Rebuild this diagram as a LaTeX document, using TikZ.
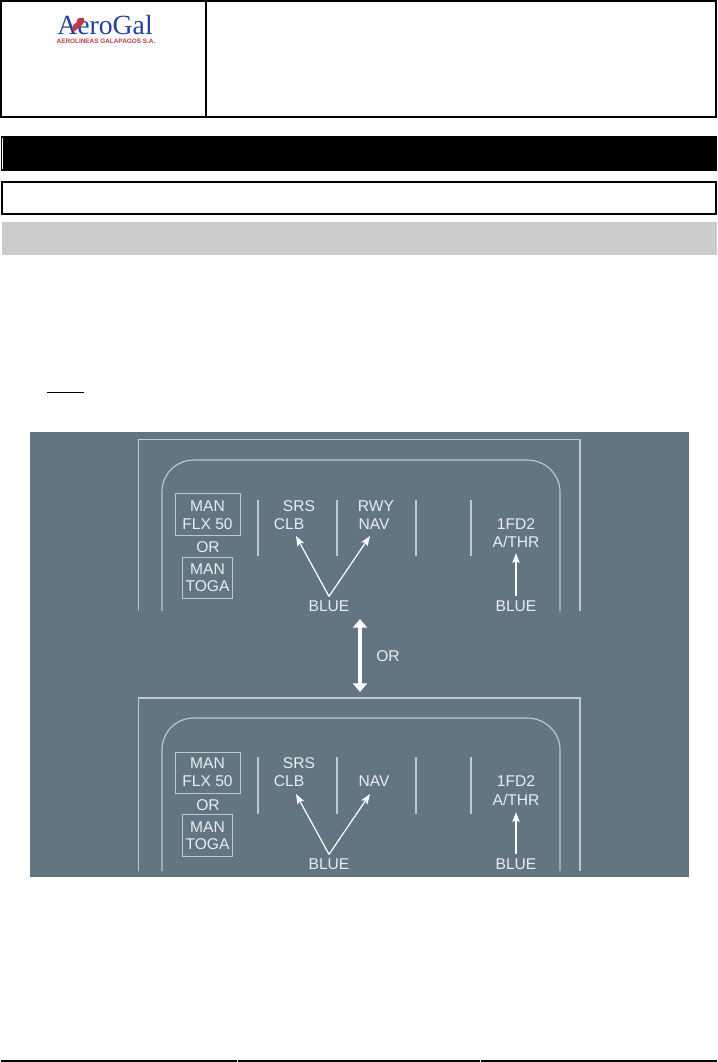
\documentclass[tikz,border=0pt]{standalone}
\usepackage{fontspec}
\setmainfont{Liberation Sans}
\newfontfamily\logoserif{Liberation Serif}
\usetikzlibrary{arrows.meta}
\definecolor{panel}{HTML}{647582}
\definecolor{ink}{HTML}{E9EDF0}
\definecolor{rule}{HTML}{BDC8D0}
\definecolor{logoblue}{HTML}{23409A}
\definecolor{logored}{HTML}{BE3A44}
\tikzset{
  x=0.75pt,y=-0.75pt,
  lbl/.style={inner sep=0pt,outer sep=0pt,text=ink,text height=8.4pt,text depth=0pt,font=\fontsize{11.7pt}{13pt}\selectfont},
  frameline/.style={draw=rule,line width=0.85pt},
  modebox/.style={draw=rule,line width=0.75pt,fill=none},
  sepline/.style={draw=rule,line width=0.8pt},
  thinarrow/.style={draw=white,line width=0.9pt,-{Stealth[length=7.5pt,width=5.5pt,inset=1.5pt]}},
  bigarrow/.style={draw=white,line width=3pt,{Triangle[length=6.5pt,width=10.5pt]}-{Triangle[length=6.5pt,width=10.5pt]}},
  blackline/.style={draw=black,line width=1.5pt}
}
\begin{document}
\begin{tikzpicture}
\useasboundingbox (0,0) rectangle (717,1062);
% header
\draw[blackline] (1,1) rectangle (716,117);
\draw[blackline] (206,1) -- (206,117);
\node[inner sep=0pt,text=logoblue,text height=13.5pt,text depth=0pt,font=\logoserif\fontsize{20.8pt}{22pt}\selectfont] (logo) at (105,26) {AeroGal};
\node[inner sep=0pt,text=logored,text height=3.4pt,text depth=0pt,font=\bfseries\fontsize{4.8pt}{5pt}\selectfont] (logosub) at (106,41) {AEROLINEAS GALAPAGOS S.A.};
\fill[logored] (72,30) .. controls (72,25) and (75,23) .. (77,22) .. controls (76,19) and (79,17) .. (84,18) .. controls (85,21) and (83,25) .. (81,26) .. controls (79,27) and (77,29) .. (75,31) -- cycle;
% bars
\fill[black] (1,136) rectangle (717,171);
\draw[white,line width=0.75pt] (2.5,138) -- (2.5,169);
\draw[blackline] (2,182.5) rectangle (716,214.5);
\fill[black!20] (2,222) rectangle (717,255);
\draw[black,line width=0.75pt] (47,392) -- (84,392);
% panel
\fill[panel] (30,432) rectangle (689,877);
% upper display
\draw[frameline] (138.5,611) |- (580,439.5) -- (580,611);
\draw[frameline] (162,611) -- (162,492) .. controls (162,474) and (176,460) .. (194,460) -- (527,460) .. controls (545,460) and (560,474) .. (560,492) -- (560,611);
\node[lbl] (manA) at (207.5,506) {MAN};
\node[lbl] (flxA) at (207.5,524) {FLX 50};
\node[lbl] (orA) at (208,547) {OR};
\node[lbl] (manTA) at (207.5,569) {MAN};
\node[lbl] (togaA) at (207.5,586) {TOGA};
\draw[modebox] (175,493.5) rectangle (240,535);
\draw[modebox] (182,557) rectangle (232,598);
\foreach \sx in {258,337,416,471} \draw[sepline] (\sx,500) -- (\sx,556);
\node[lbl] (srsA) at (299,506) {SRS};
\node[lbl] (clbA) at (289,524) {CLB};
\node[lbl] (rwyA) at (376,506) {RWY};
\node[lbl] (navA) at (374,524) {NAV};
\node[lbl] (fdA) at (516,524) {1FD2};
\node[lbl] (thrA) at (516,542) {A/THR};
\node[lbl] (blueA) at (329,606) {BLUE};
\node[lbl] (blueB) at (516,606) {BLUE};
\coordinate (tipA) at (296,536);
\coordinate (tipB) at (370,536);
\coordinate (tipC) at (516,553);
\coordinate (apexA) at ([yshift=3pt]blueA.north);
\coordinate (apexB) at ([yshift=3pt]blueB.north);
\draw[thinarrow] (apexA) -- (tipA);
\draw[thinarrow] (apexA) -- (tipB);
\draw[thinarrow] (apexB) -- (tipC);
% OR arrow
\coordinate (dblTop) at (360,619);
\coordinate (dblBot) at (360,692);
\draw[bigarrow] (dblTop) -- (dblBot);
\node[lbl] (orMid) at (388,656) {OR};
% lower display
\draw[frameline] (138.5,871) |- (580,698) -- (580,871);
\draw[frameline] (162,871) -- (162,750) .. controls (162,732) and (176,718) .. (194,718) -- (527,718) .. controls (545,718) and (560,732) .. (560,750) -- (560,871);
\node[lbl] (manC) at (207.5,763) {MAN};
\node[lbl] (flxC) at (207.5,781) {FLX 50};
\node[lbl] (orC) at (208,805) {OR};
\node[lbl] (manTC) at (207.5,827) {MAN};
\node[lbl] (togaC) at (207.5,844) {TOGA};
\draw[modebox] (175,752) rectangle (240,793);
\draw[modebox] (182,814) rectangle (232,856);
\foreach \sx in {258,337,416,471} \draw[sepline] (\sx,757) -- (\sx,814);
\node[lbl] (srsC) at (299,763) {SRS};
\node[lbl] (clbC) at (289,781) {CLB};
\node[lbl] (navC) at (374,781) {NAV};
\node[lbl] (fdC) at (516,781) {1FD2};
\node[lbl] (thrC) at (516,800) {A/THR};
\node[lbl] (blueC) at (329,864) {BLUE};
\node[lbl] (blueD) at (516,864) {BLUE};
\coordinate (tipD) at (296,794);
\coordinate (tipE) at (370,794);
\coordinate (tipF) at (516,812);
\coordinate (apexC) at ([yshift=3pt]blueC.north);
\coordinate (apexD) at ([yshift=3pt]blueD.north);
\draw[thinarrow] (apexC) -- (tipD);
\draw[thinarrow] (apexC) -- (tipE);
\draw[thinarrow] (apexD) -- (tipF);
% footer
\draw[blackline] (1,1060.5) -- (717,1060.5);
\draw[white,line width=0.4pt] (237,1059) -- (237,1062);
\draw[white,line width=0.4pt] (480,1059) -- (480,1062);
\end{tikzpicture}
\end{document}
